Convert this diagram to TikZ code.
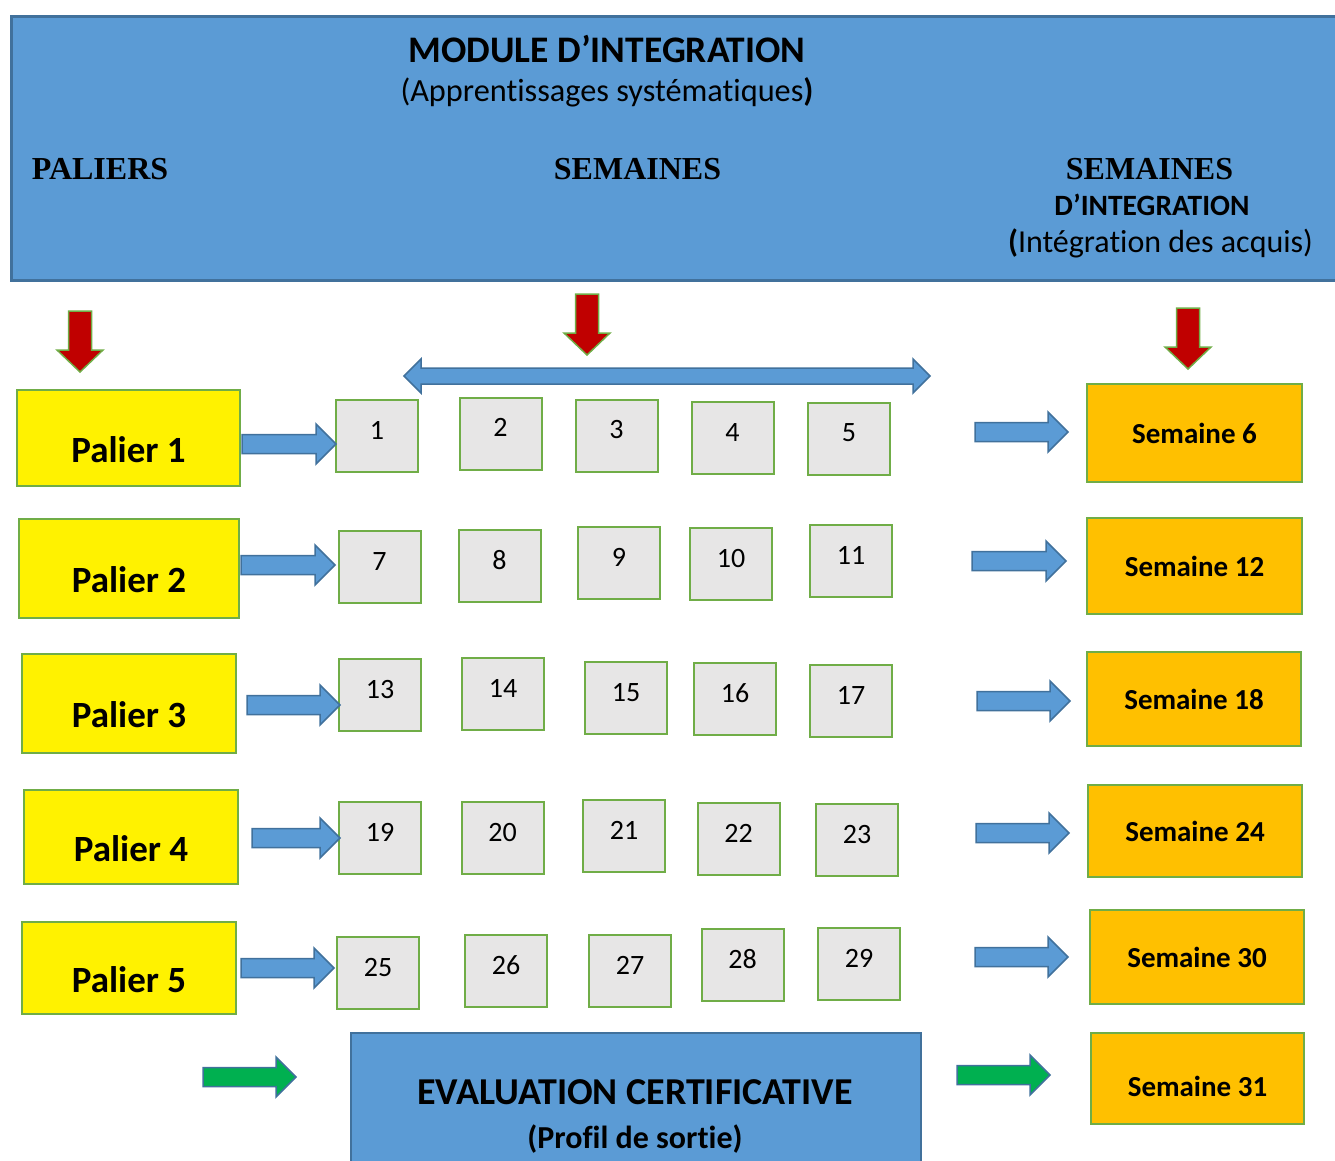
\documentclass[tikz,border=0pt]{standalone}
\usepackage{fontspec}
\setmainfont{Carlito}[Ligatures=NoCommon]
\newfontfamily\tnr{Liberation Serif}
\definecolor{hdrblue}{HTML}{5B9BD5}
\definecolor{hdrborder}{HTML}{41719C}
\definecolor{boxgreen}{HTML}{70AD47}
\definecolor{weekgray}{HTML}{E7E6E6}
\definecolor{orangebox}{HTML}{FFC000}
\definecolor{redarrow}{HTML}{C00000}
\definecolor{greenarrow}{HTML}{00B050}
\newcommand\harr[4][barrow]{%
  \draw[#1] (#2,#4-9.5) -- (#3-20,#4-9.5) -- (#3-20,#4-20) -- (#3,#4) -- (#3-20,#4+20) -- (#3-20,#4+9.5) -- (#2,#4+9.5) -- cycle;}
\newcommand\darr[3]{%
  \draw[rarrow] (#1-11.5,#2) -- (#1+11.5,#2) -- (#1+11.5,#3-22) -- (#1+23,#3-22) -- (#1,#3) -- (#1-23,#3-22) -- (#1-11.5,#3-22) -- cycle;}
\tikzset{
  hdrbox/.style={draw=hdrborder, fill=hdrblue, line width=2.5pt, inner sep=0pt},
  palbox/.style={draw=boxgreen, fill=yellow, line width=2pt, inner sep=0pt,
    font=\bfseries\fontsize{37}{40}\selectfont, text height=48pt, text depth=0pt},
  weekbox/.style={draw=boxgreen, fill=weekgray, line width=2pt, inner sep=0pt,
    minimum width=82pt, minimum height=72pt,
    font=\fontsize{28}{30}\selectfont, text height=18pt, text depth=12pt},
  intbox/.style={draw=boxgreen, fill=orangebox, line width=2pt, inner sep=0pt,
    font=\bfseries\fontsize{29}{32}\selectfont, text height=24pt, text depth=4pt},
  barrow/.style={draw=hdrborder, fill=hdrblue, line width=1.5pt, line join=miter},
  garrow/.style={draw=hdrborder, fill=greenarrow, line width=1.5pt, line join=miter},
  rarrow/.style={draw=boxgreen, fill=redarrow, line width=1.5pt, line join=miter},
  ttl/.style={anchor=base, inner sep=0pt},
}
\begin{document}
\begin{tikzpicture}[x=1pt, y=-1pt]
\useasboundingbox (0,0) rectangle (1335,1160);
% header
\node[hdrbox, anchor=north west, minimum width=1335pt, minimum height=264pt] (header) at (10,15) {};
\node[ttl, font=\bfseries\fontsize{37.5}{40}\selectfont] (module) at (607,62) {MODULE D’INTEGRATION};
\node[ttl, font=\fontsize{32.3}{34}\selectfont] (appr) at (607,101) {(Apprentissages systématiques\textbf{)}};
\node[ttl, font=\tnr\bfseries\fontsize{32}{36}\selectfont] (paliers) at (100,179) {PALIERS};
\node[ttl, font=\tnr\bfseries\fontsize{32}{36}\selectfont] (semaines) at (637.5,179) {SEMAINES};
\node[ttl, font=\tnr\bfseries\fontsize{32}{36}\selectfont] (semint) at (1149.5,179) {SEMAINES};
\node[ttl, font=\bfseries\fontsize{29.5}{32}\selectfont] (dint) at (1152,215) {D’INTEGRATION};
\node[ttl, font=\fontsize{32}{34}\selectfont] (acquis) at (1160.5,252) {\textbf{(}Intégration des acquis)};
% red arrows
\darr{80}{311}{372}
\darr{587}{294}{355}
\darr{1188}{308}{369}
% double arrow
\draw[barrow] (404,376) -- (421,359) -- (421,368) -- (913,368) -- (913,359) -- (930,376) -- (913,393) -- (913,384) -- (421,384) -- (421,393) -- cycle;
% paliers
\node[palbox, minimum width=223pt, minimum height=96pt] (p1) at (128.5,438) {Palier 1};
\node[palbox, minimum width=220pt, minimum height=99pt] (p2) at (129,568.5) {Palier 2};
\node[palbox, minimum width=214pt, minimum height=99pt] (p3) at (129,703.5) {Palier 3};
\node[palbox, minimum width=214pt, minimum height=94pt] (p4) at (131,837) {Palier 4};
\node[palbox, minimum width=214pt, minimum height=92pt] (p5) at (129,968) {Palier 5};
% weeks
\node[weekbox] (w1) at (377,436) {1};
\node[weekbox] (w2) at (500.5,433.5) {2};
\node[weekbox] (w3) at (616.5,435.5) {3};
\node[weekbox] (w4) at (732.5,438) {4};
\node[weekbox] (w5) at (849,438.5) {5};
\node[weekbox] (w7) at (379.5,567) {7};
\node[weekbox] (w8) at (499.5,566) {8};
\node[weekbox] (w9) at (619,563) {9};
\node[weekbox] (w10) at (731,564) {10};
\node[weekbox] (w11) at (851,561) {11};
\node[weekbox] (w13) at (380,695) {13};
\node[weekbox] (w14) at (503,694) {14};
\node[weekbox] (w15) at (626,698) {15};
\node[weekbox] (w16) at (735,699) {16};
\node[weekbox] (w17) at (851,701) {17};
\node[weekbox] (w19) at (380,838) {19};
\node[weekbox] (w20) at (502.5,838) {20};
\node[weekbox] (w21) at (624,836) {21};
\node[weekbox] (w22) at (738.5,839) {22};
\node[weekbox] (w23) at (857,840) {23};
\node[weekbox] (w25) at (378,973) {25};
\node[weekbox] (w26) at (506,971) {26};
\node[weekbox] (w27) at (630,971) {27};
\node[weekbox] (w28) at (742.5,965) {28};
\node[weekbox] (w29) at (859,964) {29};
% integration weeks
\node[intbox, minimum width=215pt, minimum height=98pt] (s6) at (1194.5,433) {Semaine 6};
\node[intbox, minimum width=215pt, minimum height=96pt] (s12) at (1194.5,566) {Semaine 12};
\node[intbox, minimum width=214pt, minimum height=94pt] (s18) at (1194,699) {Semaine 18};
\node[intbox, minimum width=214pt, minimum height=92pt] (s24) at (1195,831) {Semaine 24};
\node[intbox, minimum width=214pt, minimum height=94pt] (s30) at (1197,957) {Semaine 30};
\node[intbox, minimum width=213pt, minimum height=91pt, text height=40pt, text depth=4pt] (s31) at (1197.5,1078.5) {Semaine 31};
% evaluation
\node[hdrbox, line width=2pt, anchor=north west, minimum width=570pt, minimum height=140pt] (eval) at (350,1032) {};
\node[ttl, font=\bfseries\fontsize{38}{40}\selectfont] (evalt) at (635,1104) {EVALUATION CERTIFICATIVE};
\node[ttl, font=\bfseries\fontsize{32}{34}\selectfont] (evals) at (635,1148) {(Profil de sortie)};
% blue arrows left
\harr{242}{336}{444}
\harr{241}{335}{565}
\harr{247}{340}{705}
\harr{252}{340}{838}
\harr{241}{334}{968}
% blue arrows right
\harr{975}{1068}{432}
\harr{972}{1066}{561}
\harr{977}{1070}{701}
\harr{976}{1069}{833}
\harr{975}{1068}{957}
% green arrows
\harr[garrow]{203}{296}{1077}
\harr[garrow]{957}{1050}{1075}
\end{tikzpicture}
\end{document}
